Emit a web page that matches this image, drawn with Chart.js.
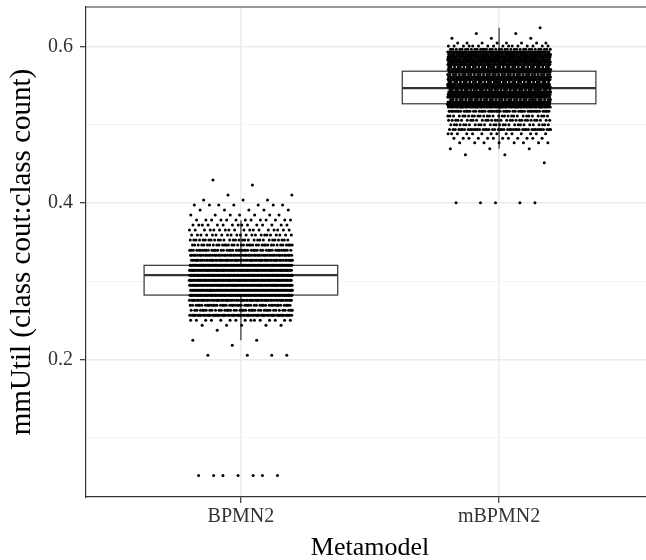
<!DOCTYPE html>
<html>
<head>
<meta charset="utf-8">
<script src="https://cdn.jsdelivr.net/npm/chart.js@4.4.1/dist/chart.umd.min.js"></script>
<style>
  html, body { margin: 0; padding: 0; background: #fff; overflow: hidden; }
  #wrap { width: 660px; height: 560px; position: relative; }
</style>
</head>
<body>
<div id="wrap"><canvas id="chart"></canvas></div>
<script>
// Metamodel categories and y-axis ticks
const categories = ['BPMN2', 'mBPMN2'];
const yMajorTicks = [0.2, 0.4, 0.6];
const yMinorTicks = [0.1, 0.3, 0.5];

// BPMN2: observed mmUtil values and how many models sit at each value
const bpmnLevels = [0.0513, 0.2051, 0.2179, 0.2244, 0.2372, 0.2436, 0.2500, 0.2564, 0.2628, 0.2692,
                    0.2756, 0.2821, 0.2885, 0.2949, 0.3013, 0.3077, 0.3141, 0.3205, 0.3269, 0.3333,
                    0.3397, 0.3462, 0.3526, 0.3590, 0.3654, 0.3718, 0.3782, 0.3846, 0.3910, 0.3974,
                    0.4038, 0.4103, 0.4231, 0.4295];
const bpmnCounts = [7, 4, 1, 2, 1, 5, 15, 70, 40, 45,
                    65, 110, 90, 95, 100, 110, 100, 90, 65, 55,
                    45, 38, 30, 22, 18, 15, 13, 7, 5, 7,
                    3, 2, 1, 1];

// mBPMN2: observed mmUtil values and counts
const mbpmnLevels = [0.4004, 0.4517, 0.4620, 0.4696, 0.4772, 0.4831, 0.4887, 0.4942, 0.5003, 0.5060,
                     0.5115, 0.5175, 0.5231, 0.5263, 0.5295, 0.5327, 0.5359, 0.5391, 0.5423, 0.5455,
                     0.5487, 0.5519, 0.5551, 0.5583, 0.5615, 0.5647, 0.5679, 0.5711, 0.5743, 0.5775,
                     0.5807, 0.5839, 0.5871, 0.5903, 0.5935, 0.5970, 0.6010, 0.6050, 0.6110, 0.6170,
                     0.6243];
const mbpmnCounts = [5, 1, 2, 3, 8, 12, 14, 45, 28, 30,
                     30, 45, 60, 90, 80, 35, 75, 90, 80, 35,
                     80, 85, 35, 85, 75, 35, 70, 85, 35, 80,
                     70, 85, 75, 80, 70, 35, 16, 8, 3, 2,
                     1];

// Box-plot summaries per category
const boxLow    = [0.2244, 0.4696];
const boxQ1     = [0.2822, 0.5271];
const boxMedian = [0.3078, 0.5471];
const boxQ3     = [0.3203, 0.5688];
const boxHigh   = [0.3781, 0.6243];

const FONT = "'Liberation Serif', 'Times New Roman', serif";
const JITTER = 0.2;     // horizontal spread of the points, in category units
const BOX_HALF = 0.375; // half width of each box, in category units

// Spread the points of each value level horizontally with a golden-ratio sequence
let seq = 0;
function jittered(catIndex, levels, counts) {
  const pts = [];
  levels.forEach((v, i) => {
    for (let n = 0; n < counts[i]; n++) {
      seq += 1;
      const u = (seq * 0.6180339887498949) % 1;
      pts.push({ x: catIndex + 1 + (u * 2 - 1) * JITTER, y: v });
    }
  });
  return pts;
}

const boxPlugin = {
  id: 'boxes',
  beforeDatasetsDraw(chart) {
    const { ctx, scales: { x, y } } = chart;
    ctx.save();
    ctx.strokeStyle = '#333';
    categories.forEach((c, i) => {
      const xc = x.getPixelForValue(i + 1);
      const xl = x.getPixelForValue(i + 1 - BOX_HALF);
      const xr = x.getPixelForValue(i + 1 + BOX_HALF);
      const top = y.getPixelForValue(boxQ3[i]);
      const bot = y.getPixelForValue(boxQ1[i]);
      ctx.lineWidth = 1.2;
      ctx.beginPath();
      ctx.moveTo(xc, top); ctx.lineTo(xc, y.getPixelForValue(boxHigh[i]));
      ctx.moveTo(xc, bot); ctx.lineTo(xc, y.getPixelForValue(boxLow[i]));
      ctx.stroke();
      ctx.fillStyle = '#fff';
      ctx.fillRect(xl, top, xr - xl, bot - top);
      ctx.strokeRect(xl, top, xr - xl, bot - top);
      const ym = y.getPixelForValue(boxMedian[i]);
      ctx.lineWidth = 2.4;
      ctx.beginPath();
      ctx.moveTo(xl, ym); ctx.lineTo(xr, ym);
      ctx.stroke();
    });
    ctx.restore();
  },
  afterDatasetsDraw(chart) {
    const { ctx, chartArea } = chart;
    ctx.save();
    ctx.strokeStyle = '#333';
    ctx.lineWidth = 1.2;
    ctx.beginPath();
    ctx.moveTo(chartArea.left, chartArea.top);
    ctx.lineTo(chartArea.right, chartArea.top);
    ctx.stroke();
    ctx.restore();
  }
};

const pointStyle = { pointRadius: 1.5, pointBackgroundColor: '#000', pointBorderWidth: 0, pointHoverRadius: 1.5 };

new Chart(document.getElementById('chart'), {
  type: 'scatter',
  data: {
    datasets: [
      Object.assign({ label: categories[0], data: jittered(0, bpmnLevels, bpmnCounts) }, pointStyle),
      Object.assign({ label: categories[1], data: jittered(1, mbpmnLevels, mbpmnCounts) }, pointStyle)
    ]
  },
  options: {
    responsive: true,
    maintainAspectRatio: false,
    animation: false,
    devicePixelRatio: 1,
    events: [],
    layout: { padding: { top: 7, right: 6, left: 0, bottom: 0 } },
    plugins: { legend: { display: false }, tooltip: { enabled: false } },
    scales: {
      x: {
        type: 'linear',
        min: 0.4,
        max: 2.6,
        afterBuildTicks: s => { s.ticks = categories.map((c, i) => ({ value: i + 1 })); },
        afterFit: s => { s.height = 63; s.paddingLeft = 0; s.paddingRight = 0; },
        ticks: {
          callback: v => categories[Math.round(v) - 1],
          font: { family: FONT, size: 20 },
          color: '#333',
          padding: 2,
          maxRotation: 0,
          autoSkip: false
        },
        grid: { color: '#ebebeb', lineWidth: 1.4, tickColor: '#333', tickLength: 6, tickWidth: 1.2 },
        border: { display: true, color: '#333', width: 1.2 },
        title: {
          display: true,
          text: 'Metamodel',
          color: '#000',
          font: { family: FONT, size: 26, lineHeight: 1 },
          padding: { top: 0, bottom: -1 }
        }
      },
      y: {
        type: 'linear',
        min: 0.0237,
        max: 0.651,
        afterBuildTicks: s => {
          s.ticks = yMajorTicks.concat(yMinorTicks).sort((a, b) => a - b).map(v => ({ value: v }));
        },
        afterFit: s => { s.width = 86; s.paddingTop = 0; s.paddingBottom = 0; },
        ticks: {
          callback: v => (yMajorTicks.includes(v) ? v.toFixed(1) : ''),
          font: { family: FONT, size: 20 },
          color: '#333',
          padding: 7,
          autoSkip: false
        },
        grid: {
          color: c => (c.tick && yMajorTicks.includes(c.tick.value) ? '#ebebeb' : '#f4f4f4'),
          lineWidth: c => (c.tick && yMajorTicks.includes(c.tick.value) ? 1.4 : 1),
          tickColor: c => (c.tick && yMajorTicks.includes(c.tick.value) ? '#333' : 'rgba(0,0,0,0)'),
          tickLength: 6,
          tickWidth: 1.2
        },
        border: { display: true, color: '#333', width: 1.2 },
        title: {
          display: true,
          text: 'mmUtil (class cout:class count)',
          color: '#000',
          font: { family: FONT, size: 29, lineHeight: 1 },
          padding: { top: 8, bottom: 0 }
        }
      }
    }
  },
  plugins: [boxPlugin]
});
</script>
</body>
</html>
